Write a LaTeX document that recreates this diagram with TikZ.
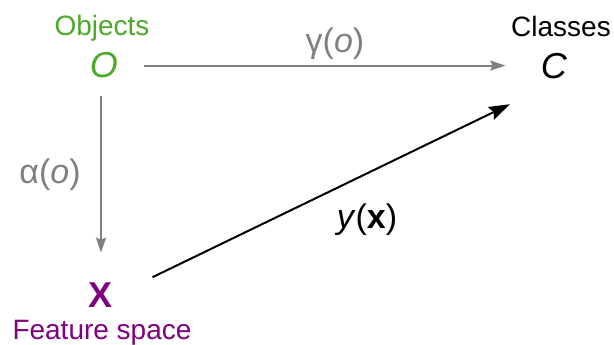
\documentclass[tikz,border=0pt]{standalone}
\usepackage{fontspec}
\setmainfont{Liberation Sans}
\usetikzlibrary{arrows.meta, positioning}
\usepackage{xcolor}
\definecolor{objgreen}{RGB}{76,170,40}
\definecolor{featpurple}{RGB}{128,0,128}
\definecolor{mapgray}{RGB}{128,128,128}

\begin{document}
\begin{tikzpicture}[x=1pt,y=-1pt,
  lbl/.style={anchor=base,font=\fontsize{28}{30}\selectfont},
  sym/.style={anchor=base,font=\fontsize{36}{38}\selectfont},
  fn/.style={anchor=base,font=\fontsize{34}{36}\selectfont},
  grayarrow/.style={mapgray,line width=1.8pt,-{Stealth[length=15pt,width=10pt,inset=2pt]}},
  mainarrow/.style={black,line width=2pt,-{Stealth[length=21pt,width=14pt,inset=3pt]}}]
  \useasboundingbox (0,0) rectangle (614,345);
  % sets and maps
  \node[lbl,objgreen] (objects) at (102,36) {Objects};
  \node[sym,objgreen] (O) at (104,78) {\textit{O}};
  \node[lbl] (classes) at (561,37) {Classes};
  \node[sym] (C) at (554,79) {\textit{C}};
  \node[sym,featpurple] (X) at (101,307) {\textbf{X}};
  \node[lbl,featpurple] (feature) at (102,339) {Feature space};
  \node[fn,mapgray] (gamma) at (335,53) {γ(\textit{o})};
  \node[fn,mapgray] (alpha) at (50,183) {α(\textit{o})};
  \node[fn] (ymap) at (367,228) {\textit{y}(\textbf{x})};
  \draw[grayarrow,shorten <=22pt,shorten >=32pt] (O.east) -- (C.west |- O.east);
  \draw[grayarrow,shorten <=14pt,shorten >=26pt] (X.north |- O.south) -- (X.north);
  \draw[mainarrow,shorten <=40pt,shorten >=49pt] (X.east) -- (C.south);
\end{tikzpicture}
\end{document}
